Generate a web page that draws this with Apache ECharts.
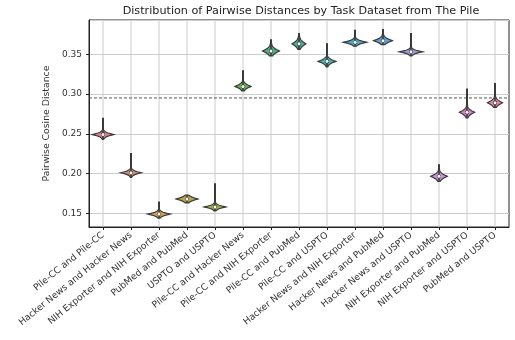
<!DOCTYPE html>
<html><head><meta charset="utf-8">
<script src="https://cdn.jsdelivr.net/npm/echarts@6/dist/echarts.min.js"></script>
<style>html,body{margin:0;padding:0;background:#fff}#c{width:515px;height:340px}</style>
</head><body><div id="c"></div>
<script>
const categories = ["Pile-CC and Pile-CC","Hacker News and Hacker News","NIH Exporter and NIH Exporter","PubMed and PubMed","USPTO and USPTO","Pile-CC and Hacker News","Pile-CC and NIH Exporter","Pile-CC and PubMed","Pile-CC and USPTO","Hacker News and NIH Exporter","Hacker News and PubMed","Hacker News and USPTO","NIH Exporter and PubMed","NIH Exporter and USPTO","PubMed and USPTO"];
const medians     = [0.249, 0.201, 0.149, 0.168, 0.158, 0.3095, 0.354, 0.363, 0.341, 0.365, 0.367, 0.353, 0.1965, 0.277, 0.289];
const whiskerLow  = [0.243, 0.195, 0.144, 0.163, 0.153, 0.304, 0.348, 0.356, 0.334, 0.360, 0.362, 0.348, 0.190, 0.270, 0.283];
const whiskerHigh = [0.2695, 0.225, 0.164, 0.173, 0.187, 0.329, 0.368, 0.376, 0.363, 0.380, 0.381, 0.376, 0.211, 0.306, 0.313];
const q1          = [0.2475, 0.1995, 0.1475, 0.1665, 0.1565, 0.308, 0.352, 0.361, 0.339, 0.3635, 0.3655, 0.3515, 0.195, 0.275, 0.287];
const q3          = [0.2515, 0.2030, 0.1505, 0.1695, 0.1600, 0.311, 0.356, 0.365, 0.343, 0.3665, 0.3685, 0.3550, 0.198, 0.279, 0.291];
const bandwidth   = [0.0025, 0.0024, 0.0024, 0.0030, 0.0024, 0.0033, 0.0040, 0.0042, 0.0032, 0.0026, 0.0033, 0.0023, 0.0036, 0.0037, 0.0037];
const peakWidth   = [0.39, 0.375, 0.41, 0.39, 0.39, 0.29, 0.30, 0.25, 0.32, 0.42, 0.34, 0.43, 0.30, 0.27, 0.27];
const meanLine = 0.295;
const colors = ["#e0808a","#de8a6c","#d39c50","#b8a647","#9aad48","#5eb24c","#4caf80","#4bad98","#4baaab","#4ba6bd","#5e9fd6","#9c98de","#c690dd","#da81ca","#e180a8"];

const violinData = categories.map((c, i) => [i, medians[i], whiskerLow[i], whiskerHigh[i], q1[i], q3[i], bandwidth[i], peakWidth[i]]);

function renderGrid(params, api) {
  const cs = params.coordSys;
  const x = api.coord([api.value(0), 0.2])[0];
  return {type: 'line', shape: {x1: x, y1: cs.y, x2: x, y2: cs.y + cs.height},
    style: {stroke: '#cccccc', lineWidth: 1}};
}

function renderMean(params, api) {
  const cs = params.coordSys;
  const y = api.coord([0, api.value(1)])[1];
  return {type: 'line', shape: {x1: cs.x, y1: y, x2: cs.x + cs.width, y2: y},
    style: {stroke: '#555555', lineWidth: 1, lineDash: [3, 2]}};
}

function renderViolin(params, api) {
  const i = api.value(0), med = api.value(1), lo = api.value(2), hi = api.value(3);
  const a = api.value(4), b = api.value(5), bw = api.value(6), pw = api.value(7);
  const cx = api.coord([i, med])[0];
  const half = api.size([1, 0])[0] * pw;
  const N = 100;
  const vals = [];
  for (let k = 0; k <= N; k++) vals.push(lo + (hi - lo) * k / N);
  vals.push(med);
  vals.sort((p, q) => p - q);
  const right = [], left = [];
  vals.forEach(v => {
    const y = api.coord([i, v])[1];
    const w = Math.max(0.4, half * Math.exp(-Math.pow(Math.abs(v - med) / bw, 1.15)));
    right.push([cx + w, y]);
    left.push([cx - w, y]);
  });
  const pts = right.concat(left.reverse());
  const yLo = api.coord([i, lo])[1], yHi = api.coord([i, hi])[1];
  const yA = api.coord([i, a])[1], yB = api.coord([i, b])[1];
  const yM = api.coord([i, med])[1];
  return {type: 'group', children: [
    {type: 'polygon', shape: {points: pts}, style: {fill: colors[i], stroke: '#3a3a3a', lineWidth: 1.2}},
    {type: 'line', shape: {x1: cx, y1: yLo, x2: cx, y2: yHi}, style: {stroke: '#3a3a3a', lineWidth: 1.6}},
    {type: 'line', shape: {x1: cx, y1: yA, x2: cx, y2: yB}, style: {stroke: '#3a3a3a', lineWidth: 4}},
    {type: 'circle', shape: {cx: cx, cy: yM, r: 1.5}, style: {fill: '#ffffff'}}
  ]};
}

const chart = echarts.init(document.getElementById('c'), null, {renderer: 'canvas'});
chart.setOption({
  animation: false,
  backgroundColor: '#ffffff',
  textStyle: {fontFamily: 'DejaVu Sans'},
  title: {text: 'Distribution of Pairwise Distances by Task Dataset from The Pile', left: 296, textAlign: 'center', top: 1,
    textStyle: {fontSize: 11.2, fontWeight: 'normal', color: '#222', fontFamily: 'DejaVu Sans'}},
  grid: {left: 89, right: 6, top: 20, bottom: 113, show: true, borderColor: '#222', borderWidth: 1, backgroundColor: 'transparent'},
  xAxis: {type: 'category', data: categories, boundaryGap: true,
    axisLine: {show: true, lineStyle: {color: '#222'}},
    axisTick: {show: true, alignWithLabel: true, length: 3, lineStyle: {color: '#222'}},
    axisLabel: {rotate: 39, interval: 0, fontSize: 9.2, color: '#333', margin: 7, fontFamily: 'DejaVu Sans'},
    splitLine: {show: false}},
  yAxis: {type: 'value', min: 0.1328, max: 0.393, splitNumber: 5,
    name: 'Pairwise Cosine Distance', nameLocation: 'middle', nameGap: 32,
    nameTextStyle: {fontSize: 9.3, color: '#333', fontFamily: 'DejaVu Sans'},
    axisLine: {show: true, lineStyle: {color: '#222'}},
    axisTick: {show: true, length: 3, lineStyle: {color: '#222'}},
    axisLabel: {fontSize: 9, color: '#333', margin: 7, showMinLabel: false, showMaxLabel: false,
      formatter: v => v.toFixed(2)},
    splitLine: {show: true, lineStyle: {color: '#cccccc', width: 1}}},
  series: [
    {type: 'custom', name: 'grid', renderItem: renderGrid, data: categories.map((c, i) => [i]), z: 1, silent: true},
    {type: 'custom', name: 'mean', renderItem: renderMean, data: [[0, meanLine]], encode: {x: 0, y: 1}, z: 2, silent: true},
    {type: 'custom', name: 'violins', renderItem: renderViolin, data: violinData, encode: {x: 0, y: 1}, z: 5}
  ]
});
</script></body></html>
